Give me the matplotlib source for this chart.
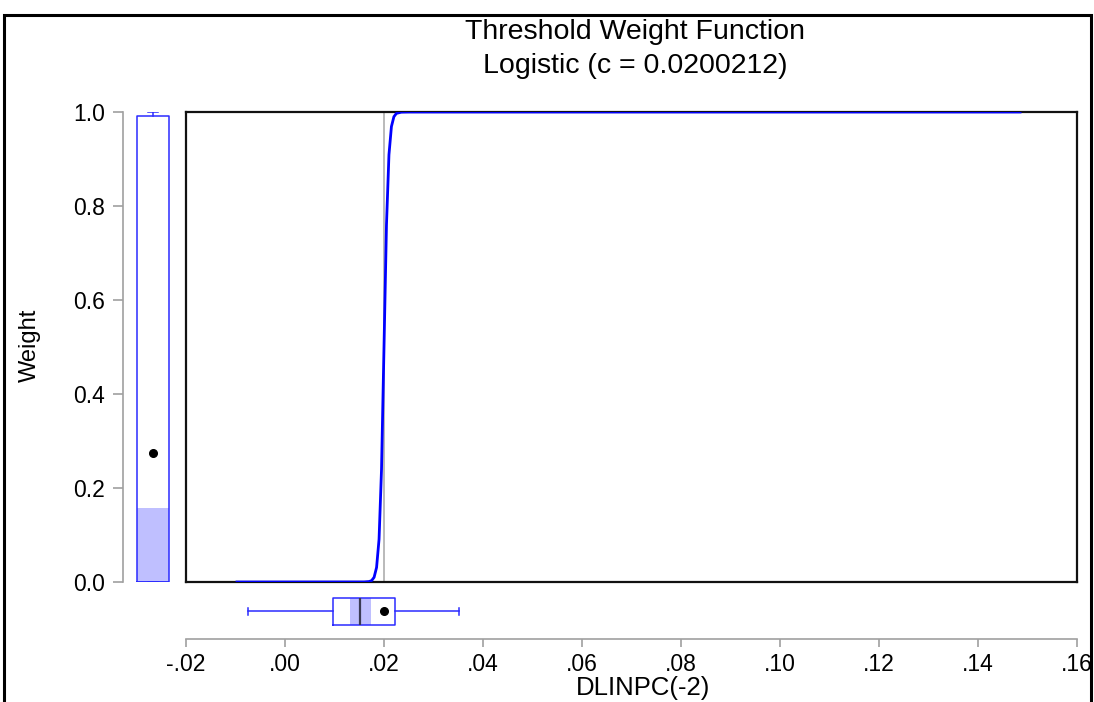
import numpy as np
import matplotlib.pyplot as plt
from matplotlib.ticker import FuncFormatter
from matplotlib.patches import Rectangle

plt.rcParams['font.family'] = ['Liberation Sans', 'DejaVu Sans']

# threshold value and the weight curve
threshold_c = 0.0200212
curve_x = [-0.0097, 0.0160, 0.0170, 0.0175, 0.0180, 0.0185, 0.0190, 0.0195,
           0.0200, 0.0205, 0.0210, 0.0215, 0.0220, 0.0225, 0.0235, 0.0250, 0.1485]
curve_w = [0.0, 0.0001, 0.001, 0.003, 0.010, 0.031, 0.091, 0.240,
           0.500, 0.760, 0.909, 0.969, 0.990, 0.997, 0.9997, 1.0, 1.0]

# box summary of the weights (left) and of DLINPC(-2) (bottom)
weight_box = dict(q1=0.0, med=0.0, q3=0.9915, whislo=0.0, whishi=1.0, mean=0.2745, fliers=[])
weight_ci = (0.0, 0.157)
x_box = dict(q1=0.00964, med=0.0152, q3=0.0222, whislo=-0.00754, whishi=0.03515, mean=0.0200, fliers=[])
x_ci = (0.01307, 0.0173)

x_ticks = [-0.02, 0.00, 0.02, 0.04, 0.06, 0.08, 0.10, 0.12, 0.14, 0.16]
y_ticks = [0.0, 0.2, 0.4, 0.6, 0.8, 1.0]

W, H = 1094, 702
fig = plt.figure(figsize=(W / 100, H / 100), dpi=100)


def frac(x0, y0, x1, y1):
    """pixel box -> figure fraction rect"""
    return [x0 / W, 1 - y1 / H, (x1 - x0) / W, (y1 - y0) / H]


blue = '#2b2bff'
ci_col = '#bfbfff'
grey = '#a0a0a0'
box_style = dict(
    boxprops=dict(color=blue, lw=1.1),
    whiskerprops=dict(color=blue, lw=1.1),
    capprops=dict(color=blue, lw=1.1),
    meanprops=dict(marker='o', markerfacecolor='black', markeredgecolor='black', markersize=5.5),
)

# main panel
ax = fig.add_axes(frac(186, 112, 1077, 582))
ax.plot(curve_x, curve_w, color='#0000ff', lw=2, zorder=3)
ax.axvline(threshold_c, color='#b4b4b4', lw=1.3, zorder=2)
ax.set_xlim(-0.02, 0.16)
ax.set_ylim(0.0, 1.0)
ax.set_xticks([])
ax.set_yticks([])
for s in ax.spines.values():
    s.set_linewidth(1.6)
    s.set_color('#111111')

# left box plot panel, carries the y axis
axl = fig.add_axes(frac(123, 112, 182, 582))
axl.set_xlim(0, 1)
axl.set_ylim(0.0, 1.0)
axl.fill_between([0.237, 0.780], weight_ci[0], weight_ci[1], color=ci_col, lw=0, zorder=1)
axl.bxp([weight_box], positions=[0.509], widths=0.543, showmeans=True, capwidths=0.17,
        medianprops=dict(color=blue, lw=1.1), manage_ticks=False, **box_style)
for k in ['top', 'right', 'bottom']:
    axl.spines[k].set_visible(False)
axl.spines['left'].set_color(grey)
axl.spines['left'].set_linewidth(1.2)
axl.set_xticks([])
axl.set_yticks(y_ticks)
axl.yaxis.set_major_formatter(FuncFormatter(lambda v, p: f'{v:.1f}'))
axl.tick_params(axis='y', length=7, width=1.2, color=grey, labelsize=16.5, pad=6)
fig.text(30 / W, 1 - 345 / H, 'Weight', rotation=90, ha='center', va='center', fontsize=17)

# bottom box plot panel, carries the x axis
axb = fig.add_axes(frac(186, 590, 1077, 639))
axb.set_xlim(-0.02, 0.16)
axb.set_ylim(0, 1)
axb.fill_between(x_ci, 0.286, 0.843, color=ci_col, lw=0, zorder=1)
axb.bxp([x_box], positions=[0.564], widths=0.557, showmeans=True, capwidths=0.13,
        orientation='horizontal', medianprops=dict(color='#3a3a55', lw=1.6),
        manage_ticks=False, **box_style)
for k in ['top', 'right', 'left']:
    axb.spines[k].set_visible(False)
axb.spines['bottom'].set_color(grey)
axb.spines['bottom'].set_linewidth(1.2)
axb.set_yticks([])
axb.set_xticks(x_ticks)


def dot_fmt(v, p):
    s = f'{v:.2f}'
    return s.replace('0.', '.', 1)


axb.xaxis.set_major_formatter(FuncFormatter(dot_fmt))
axb.tick_params(axis='x', length=6, width=1.2, color=grey, labelsize=16.5, pad=4)
fig.text(643 / W, 1 - 688 / H, 'DLINPC(-2)', ha='center', va='center', fontsize=18.5)

fig.text(635 / W, 1 - 32 / H, 'Threshold Weight Function', ha='center', va='center', fontsize=20.5)
fig.text(635 / W, 1 - 66 / H, 'Logistic (c = 0.0200212)', ha='center', va='center', fontsize=20.5)

# outer frame, bottom edge falls below the image
frame = Rectangle((4 / W, -0.2), (1091 - 4) / W, 1.2 - 15 / H, transform=fig.transFigure,
                  fill=False, edgecolor='black', lw=2.2)
fig.add_artist(frame)

fig.savefig('out.png', dpi=100)
